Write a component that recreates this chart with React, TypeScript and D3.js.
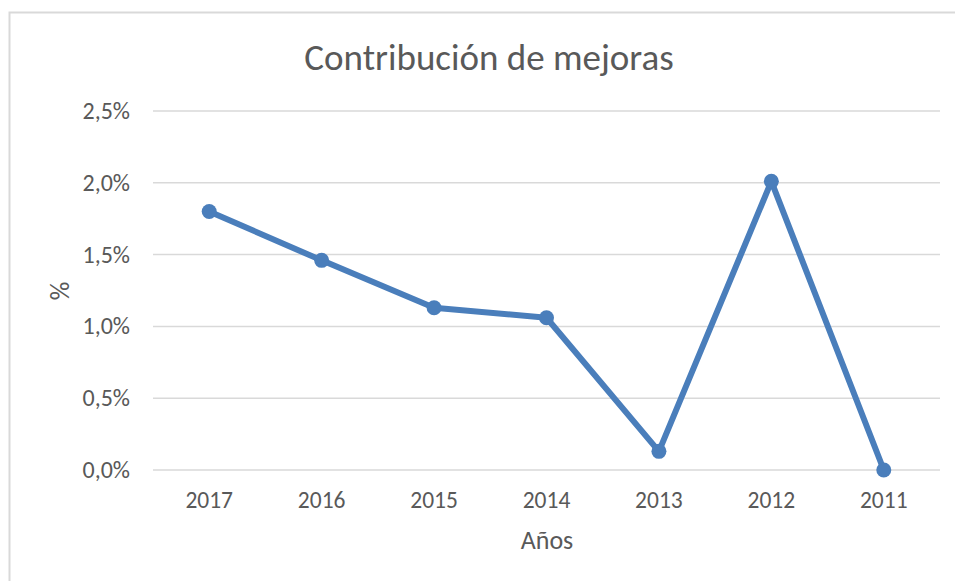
import React from "react";
import * as d3 from "d3";

const categories = ["2017", "2016", "2015", "2014", "2013", "2012", "2011"];
const values = [1.8, 1.46, 1.13, 1.06, 0.13, 2.01, 0.0];
const yTicks = [0, 0.5, 1.0, 1.5, 2.0, 2.5];

const W = 955;
const H = 581;
const left = 153;
const right = 940;
const top = 111;
const bottom = 470;
const font = "Calibri, Carlito, 'Open Sans', 'Noto Sans', sans-serif";

export default function App() {
  const x = d3.scaleBand<string>().domain(categories).range([left, right]);
  const y = d3.scaleLinear().domain([0, 2.5]).range([bottom, top]);
  const pts = categories.map((c, i) => [x(c)! + x.bandwidth() / 2, y(values[i])] as [number, number]);
  const line = d3.line()(pts) || "";
  const fmt = (v: number) => v.toFixed(1).replace(".", ",") + "%";
  return (
    <svg width={W} height={H} style={{ position: "absolute", left: 0, top: 0 }}>
      <rect x={0} y={0} width={W} height={H} fill="#fff" />
      <path d={`M9.5,${H} V12.5 H${W}`} fill="none" stroke="#d9d9d9" strokeWidth={2} />
      <text x={489} y={70} textAnchor="middle" fontFamily={font} fontSize={37} fill="#595959">
        Contribución de mejoras
      </text>
      {yTicks.map((t) => (
        <g key={t}>
          <line x1={left} x2={right} y1={y(t)} y2={y(t)} stroke="#d9d9d9" strokeWidth={1.5} />
          <text x={130} y={y(t) + 8} textAnchor="end" fontFamily={font} fontSize={24} fill="#595959">
            {fmt(t)}
          </text>
        </g>
      ))}
      {categories.map((c) => (
        <text key={c} x={x(c)! + x.bandwidth() / 2} y={508} textAnchor="middle" fontFamily={font} fontSize={23.5} fill="#595959">
          {c}
        </text>
      ))}
      <text x={547} y={549} textAnchor="middle" fontFamily={font} fontSize={26} fill="#595959">
        Años
      </text>
      <text transform="translate(69,291) rotate(-90)" textAnchor="middle" fontFamily={font} fontSize={26} fill="#595959">
        %
      </text>
      <path d={line} fill="none" stroke="#4a7ebb" strokeWidth={6} strokeLinejoin="round" />
      {pts.map((p, i) => (
        <circle key={i} cx={p[0]} cy={p[1]} r={7.5} fill="#4a7ebb" />
      ))}
    </svg>
  );
}
